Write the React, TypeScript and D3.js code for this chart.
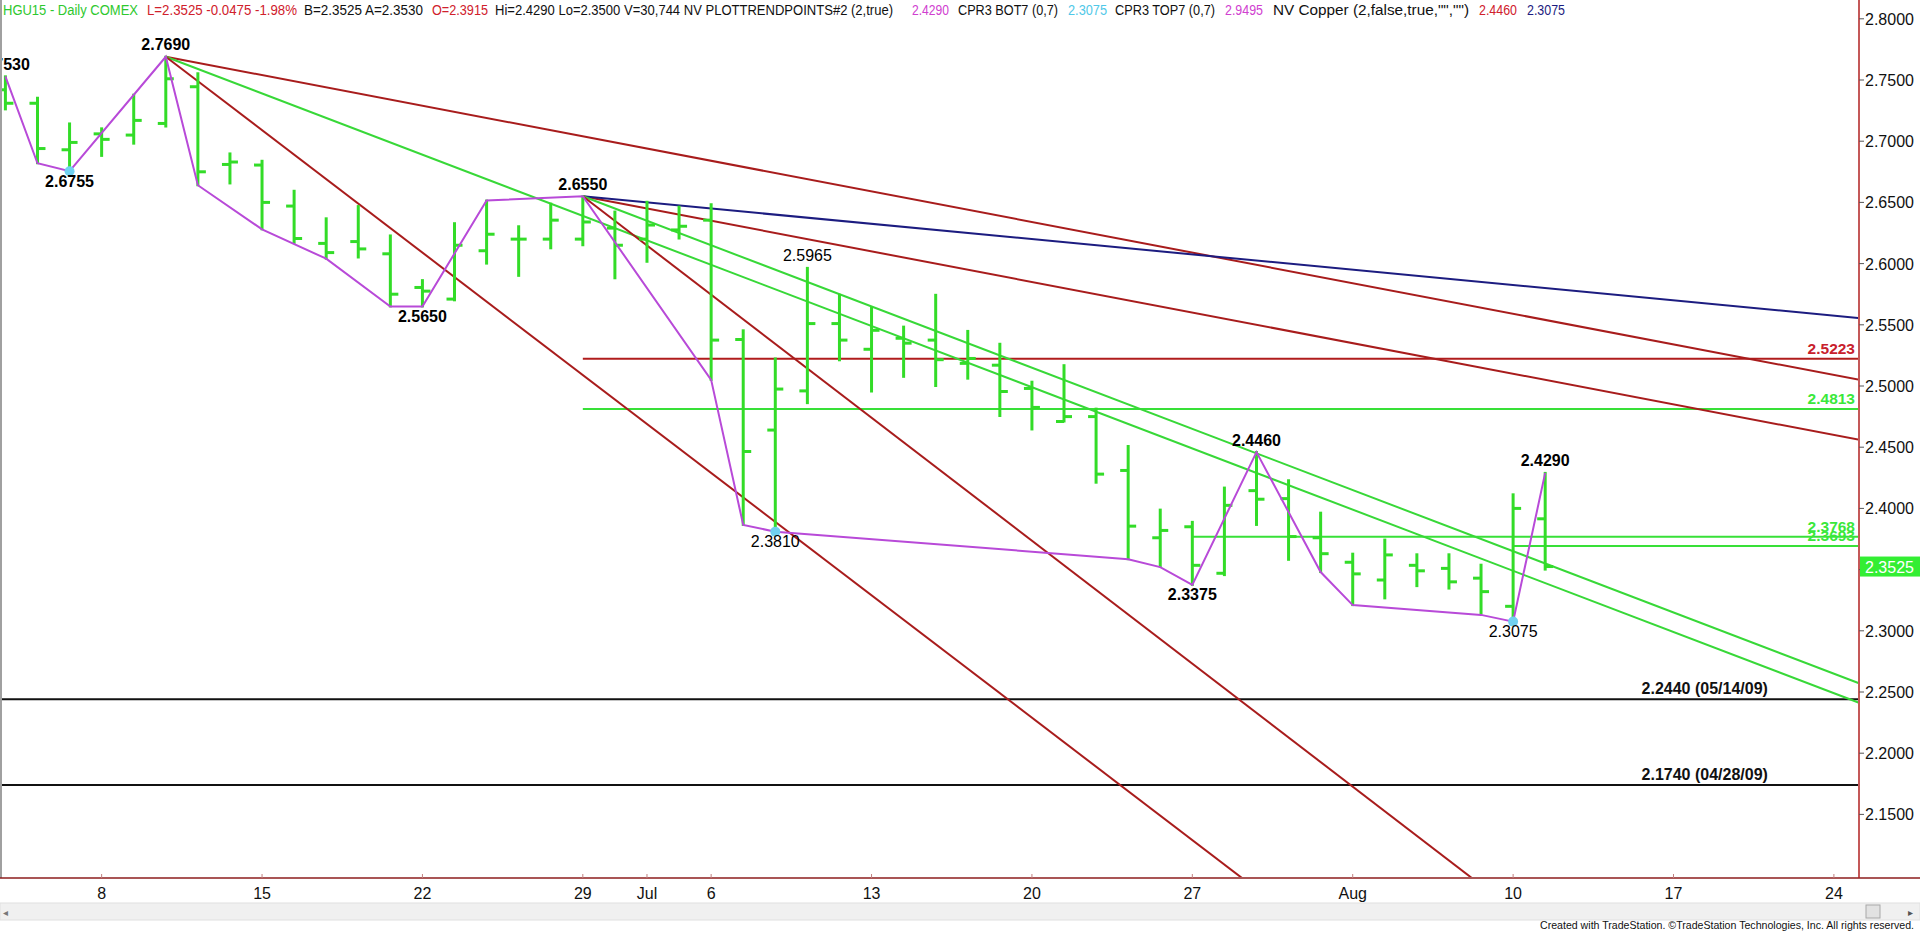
import React from 'react';
import * as d3 from 'd3';

// daily bars, HGU15 (COMEX copper, Sep 2015)
const barDates = [
  '2015-06-03', '2015-06-04', '2015-06-05',
  '2015-06-08', '2015-06-09', '2015-06-10', '2015-06-11', '2015-06-12',
  '2015-06-15', '2015-06-16', '2015-06-17', '2015-06-18', '2015-06-19',
  '2015-06-22', '2015-06-23', '2015-06-24', '2015-06-25', '2015-06-26',
  '2015-06-29', '2015-06-30', '2015-07-01', '2015-07-02',
  '2015-07-06', '2015-07-07', '2015-07-08', '2015-07-09', '2015-07-10',
  '2015-07-13', '2015-07-14', '2015-07-15', '2015-07-16', '2015-07-17',
  '2015-07-20', '2015-07-21', '2015-07-22', '2015-07-23', '2015-07-24',
  '2015-07-27', '2015-07-28', '2015-07-29', '2015-07-30', '2015-07-31',
  '2015-08-03', '2015-08-04', '2015-08-05', '2015-08-06', '2015-08-07',
  '2015-08-10', '2015-08-11',
];
const opens = [
  2.742, 2.731, 2.693,
  2.706, 2.705, 2.7145, 2.7445, 2.681,
  2.6805, 2.647, 2.6165, 2.618, 2.608,
  2.5805, 2.571, 2.6105, 2.62, 2.62,
  2.62, 2.629, 2.62, 2.6275,
  2.6355, 2.538, 2.464, 2.496, 2.551,
  2.53, 2.539, 2.5375, 2.5185, 2.517,
  2.498, 2.471, 2.475, 2.431, 2.376,
  2.385, 2.347, 2.4145, 2.408, 2.376,
  2.356, 2.3415, 2.3535, 2.351, 2.343,
  2.32, 2.3915,
];
const highs = [
  2.753, 2.7355, 2.7145,
  2.7105, 2.738, 2.769, 2.7555, 2.69,
  2.684, 2.6595, 2.637, 2.647, 2.623,
  2.5865, 2.633, 2.6515, 2.6305, 2.649,
  2.655, 2.6425, 2.6505, 2.6465,
  2.6485, 2.5455, 2.5225, 2.5965, 2.5745,
  2.564, 2.5485, 2.5745, 2.545, 2.5345,
  2.5035, 2.517, 2.4815, 2.451, 2.399,
  2.389, 2.417, 2.446, 2.423, 2.3965,
  2.363, 2.3745, 2.3625, 2.3625, 2.354,
  2.4115, 2.429,
];
const lows = [
  2.726, 2.682, 2.6755,
  2.688, 2.698, 2.712, 2.664, 2.6655,
  2.628, 2.617, 2.604, 2.605, 2.565,
  2.565, 2.57, 2.6, 2.59, 2.6125,
  2.615, 2.588, 2.6015, 2.6205,
  2.505, 2.3865, 2.381, 2.486, 2.521,
  2.4955, 2.5075, 2.5, 2.506, 2.4755,
  2.4645, 2.471, 2.421, 2.3585, 2.3525,
  2.3375, 2.3455, 2.3865, 2.358, 2.348,
  2.321, 2.3265, 2.3365, 2.3345, 2.314,
  2.3075, 2.35,
];
const closes = [
  2.731, 2.694, 2.699,
  2.7015, 2.717, 2.751, 2.675, 2.683,
  2.65, 2.6205, 2.609, 2.612, 2.575,
  2.5775, 2.615, 2.624, 2.62, 2.6355,
  2.634, 2.615, 2.6315, 2.6305,
  2.5375, 2.4465, 2.4975, 2.551, 2.5375,
  2.5455, 2.535, 2.5215, 2.5225, 2.4955,
  2.4825, 2.475, 2.428, 2.3855, 2.382,
  2.3535, 2.4025, 2.4075, 2.377, 2.363,
  2.3465, 2.362, 2.349, 2.34, 2.332,
  2.4, 2.3525,
];
const futureDates = [
  '2015-08-12', '2015-08-13', '2015-08-14', '2015-08-17', '2015-08-18',
  '2015-08-19', '2015-08-20', '2015-08-21', '2015-08-24', '2015-08-25', '2015-08-26',
];

const tickDates = [
  '2015-06-08', '2015-06-15', '2015-06-22', '2015-06-29', '2015-07-01', '2015-07-06',
  '2015-07-13', '2015-07-20', '2015-07-27', '2015-08-03', '2015-08-10', '2015-08-17', '2015-08-24',
];
const tickLabels = ['8', '15', '22', '29', 'Jul', '6', '13', '20', '27', 'Aug', '10', '17', '24'];
const priceTicks = [2.15, 2.2, 2.25, 2.3, 2.35, 2.4, 2.45, 2.5, 2.55, 2.6, 2.65, 2.7, 2.75, 2.8];

// PLOTTRENDPOINTS zigzag
const trendDates = [
  '2015-06-03', '2015-06-04', '2015-06-05', '2015-06-10', '2015-06-11', '2015-06-15', '2015-06-17',
  '2015-06-19', '2015-06-22', '2015-06-24', '2015-06-29', '2015-07-06', '2015-07-07', '2015-07-08',
  '2015-07-23', '2015-07-24', '2015-07-27', '2015-07-29', '2015-07-31', '2015-08-03', '2015-08-07',
  '2015-08-10', '2015-08-11',
];
const trendValues = [
  2.753, 2.682, 2.6755, 2.769, 2.664, 2.628, 2.604,
  2.565, 2.565, 2.6515, 2.655, 2.505, 2.3865, 2.381,
  2.3585, 2.352, 2.3375, 2.446, 2.348, 2.321, 2.313,
  2.3075, 2.429,
];

// swing labels
const pivotDates = [
  '2015-06-03', '2015-06-05', '2015-06-10', '2015-06-22', '2015-06-29', '2015-07-09',
  '2015-07-08', '2015-07-27', '2015-07-29', '2015-08-11', '2015-08-10',
];
const pivotValues = [2.753, 2.6755, 2.769, 2.565, 2.655, 2.5965, 2.381, 2.3375, 2.446, 2.429, 2.3075];
const pivotAbove = [true, false, true, false, true, true, false, false, true, true, false];
const pivotBold = [true, true, true, true, true, false, false, true, true, true, false];

// cyan bottom dots
const dotDates = ['2015-06-05', '2015-07-08', '2015-08-10'];
const dotValues = [2.6755, 2.381, 2.3075];

// trend lines: [fromDate, fromValue, toDate, toValue, colour]
const trendLines: [string, number, string, number, string][] = [
  ['2015-06-10', 2.769, '2015-08-26', 2.499, '#a81c1c'],
  ['2015-06-29', 2.655, '2015-08-26', 2.45, '#a81c1c'],
  ['2015-06-29', 2.655, '2015-08-26', 2.5525, '#1c1c80'],
  ['2015-06-10', 2.769, '2015-08-26', 2.229, '#38d838'],
  ['2015-06-29', 2.655, '2015-08-26', 2.245, '#38d838'],
  ['2015-06-10', 2.769, '2015-08-26', 1.689, '#a81c1c'],
  ['2015-06-29', 2.655, '2015-08-26', 1.831, '#a81c1c'],
];

// horizontal levels
const levelValues = [2.5223, 2.4813, 2.3768, 2.3693];
const levelStarts = ['2015-06-29', '2015-06-29', '2015-07-27', '2015-08-10'];
const levelColors = ['#b01c1c', '#38e038', '#38e038', '#38e038'];
const levelLabelColors = ['#c8202c', '#3ae83a', '#3ae83a', '#3ae83a'];

const supportValues = [2.244, 2.174];
const supportLabels = ['2.2440 (05/14/09)', '2.1740 (04/28/09)'];

const headerParts = [
  { t: 'HGU15 - Daily  COMEX', c: '#2ec82e', x: 3, w: 135 },
  { t: 'L=2.3525  -0.0475  -1.98%', c: '#d0202c', x: 147, w: 150 },
  { t: 'B=2.3525  A=2.3530', c: '#111', x: 304, w: 119 },
  { t: 'O=2.3915', c: '#d0202c', x: 432, w: 56 },
  { t: 'Hi=2.4290  Lo=2.3500  V=30,744  NV  PLOTTRENDPOINTS#2 (2,true)', c: '#111', x: 495, w: 398 },
  { t: '2.4290', c: '#d040d0', x: 912, w: 37 },
  { t: 'CPR3 BOT7 (0,7)', c: '#111', x: 958, w: 100 },
  { t: '2.3075', c: '#50c8e8', x: 1068, w: 39 },
  { t: 'CPR3 TOP7 (0,7)', c: '#111', x: 1115, w: 100 },
  { t: '2.9495', c: '#d040d0', x: 1225, w: 38 },
  { t: 'NV Copper (2,false,true,"","")', c: '#111', x: 1273, w: 196 },
  { t: '2.4460', c: '#d0202c', x: 1479, w: 38 },
  { t: '2.3075', c: '#1c1c80', x: 1527, w: 38 },
];

const W = 1920;
const H = 934;
const plotRight = 1859;
const plotBottom = 878;
const font = 'Liberation Sans, Arial, sans-serif';

const App: React.FC = () => {
  const sessions = [...barDates, ...futureDates];
  const x = d3.scaleLinear().domain([0, 57]).range([5.4, 1833.9]);
  const xd = (d: string) => x(sessions.indexOf(d));
  const y = d3.scaleLinear().domain([2.15, 2.8]).range([814.4, 18.8]);

  const zig = d3.line<number>()
    .x((_, i) => xd(trendDates[i]))
    .y(v => y(v));

  const last = closes[closes.length - 1];

  return (
    <div style={{ position: 'fixed', left: 0, top: 0 }}>
      <svg width={W} height={H} style={{ display: 'block', background: '#fff' }} fontFamily={font}>
        <defs>
          <clipPath id="plot">
            <rect x={0} y={0} width={plotRight - 1} height={plotBottom - 1} />
          </clipPath>
        </defs>

        {/* header */}
        {headerParts.map((p, i) => (
          <text key={i} x={p.x} y={15} fontSize={14} fill={p.c} textLength={p.w} lengthAdjust="spacingAndGlyphs">
            {p.t}
          </text>
        ))}

        <g clipPath="url(#plot)">
          {/* support lines */}
          {supportValues.map((v, i) => (
            <line key={'s' + i} x1={0} x2={plotRight} y1={y(v)} y2={y(v)} stroke="#111" strokeWidth={2} />
          ))}
          {/* horizontal levels */}
          {levelValues.map((v, i) => (
            <line key={'l' + i} x1={xd(levelStarts[i])} x2={plotRight} y1={y(v)} y2={y(v)}
              stroke={levelColors[i]} strokeWidth={2} />
          ))}
          {/* trend lines */}
          {trendLines.map((t, i) => (
            <line key={'t' + i} x1={xd(t[0])} y1={y(t[1])} x2={xd(t[2])} y2={y(t[3])}
              stroke={t[4]} strokeWidth={2} />
          ))}

          {/* bars */}
          {barDates.map((d, i) => {
            const cx = xd(d);
            return (
              <g key={d} stroke="#33dc28" strokeWidth={3}>
                <line x1={cx} x2={cx} y1={y(highs[i]) - 1} y2={y(lows[i]) + 1} />
                <line x1={cx - 8} x2={cx} y1={y(opens[i])} y2={y(opens[i])} />
                <line x1={cx} x2={cx + 8} y1={y(closes[i])} y2={y(closes[i])} />
              </g>
            );
          })}

          {/* zigzag */}
          <path d={zig(trendValues) || ''} fill="none" stroke="#b84ad8" strokeWidth={2} />

          {dotDates.map((d, i) => (
            <circle key={'d' + i} cx={xd(d)} cy={y(dotValues[i])} r={5} fill="#70d0f0" />
          ))}

          {/* pivot labels */}
          {pivotDates.map((d, i) => (
            <text key={'p' + i} x={xd(d)} y={pivotAbove[i] ? y(pivotValues[i]) - 6.5 : y(pivotValues[i]) + 15.5}
              textAnchor="middle" fontSize={16} fontWeight={pivotBold[i] ? 'bold' : 'normal'} fill="#000">
              {pivotValues[i].toFixed(4)}
            </text>
          ))}

          {/* level labels */}
          {levelValues.map((v, i) => (
            <text key={'ll' + i} x={plotRight - 4} y={y(v) - 5} textAnchor="end" fontSize={15.5}
              fontWeight="bold" fill={levelLabelColors[i]}>
              {v.toFixed(4)}
            </text>
          ))}
          {supportValues.map((v, i) => (
            <text key={'sl' + i} x={x(57) - 66} y={y(v) - 5} textAnchor="end" fontSize={16}
              fontWeight="bold" fill="#111">
              {supportLabels[i]}
            </text>
          ))}
        </g>

        {/* frame */}
        <line x1={1} x2={1} y1={0} y2={plotBottom} stroke="#a0a0a0" strokeWidth={2} />
        <line x1={0} x2={W} y1={plotBottom} y2={plotBottom} stroke="#8c1c1c" strokeWidth={1.5} />
        <line x1={plotRight} x2={plotRight} y1={0} y2={plotBottom} stroke="#b02020" strokeWidth={1.5} />

        {/* price axis */}
        {priceTicks.map(v => (
          <g key={'pt' + v}>
            <line x1={plotRight} x2={plotRight + 5} y1={y(v)} y2={y(v)} stroke="#555" />
            <text x={plotRight + 6} y={y(v) + 6} fontSize={16} fill="#111">{v.toFixed(4)}</text>
          </g>
        ))}
        <rect x={plotRight + 1} y={y(last) - 10} width={W - plotRight - 1} height={20} fill="#33ee33" />
        <text x={plotRight + 6} y={y(last) + 6} fontSize={16} fill="#fff">{last.toFixed(4)}</text>

        {/* date axis */}
        {tickDates.map((d, i) => (
          <g key={'dt' + d}>
            <line x1={xd(d)} x2={xd(d)} y1={plotBottom - 4} y2={plotBottom} stroke="#c08080" />
            <text x={xd(d)} y={899} textAnchor="middle" fontSize={16} fill="#111">{tickLabels[i]}</text>
          </g>
        ))}

        {/* scrollbar */}
        <rect x={0} y={903} width={W} height={17} fill="#f0f0f0" stroke="#e0e0e0" />
        <rect x={1866} y={905} width={14} height={13} fill="#e2e2e2" stroke="#a8a8a8" />
        <text x={3} y={916} fontSize={10} fill="#777">◂</text>
        <text x={1908} y={916} fontSize={10} fill="#555">▸</text>

        <text x={1540} y={929} fontSize={11} fill="#111" textLength={374}
          lengthAdjust="spacingAndGlyphs">
          Created with TradeStation. ©TradeStation Technologies, Inc. All rights reserved.
        </text>
      </svg>
    </div>
  );
};

export default App;
